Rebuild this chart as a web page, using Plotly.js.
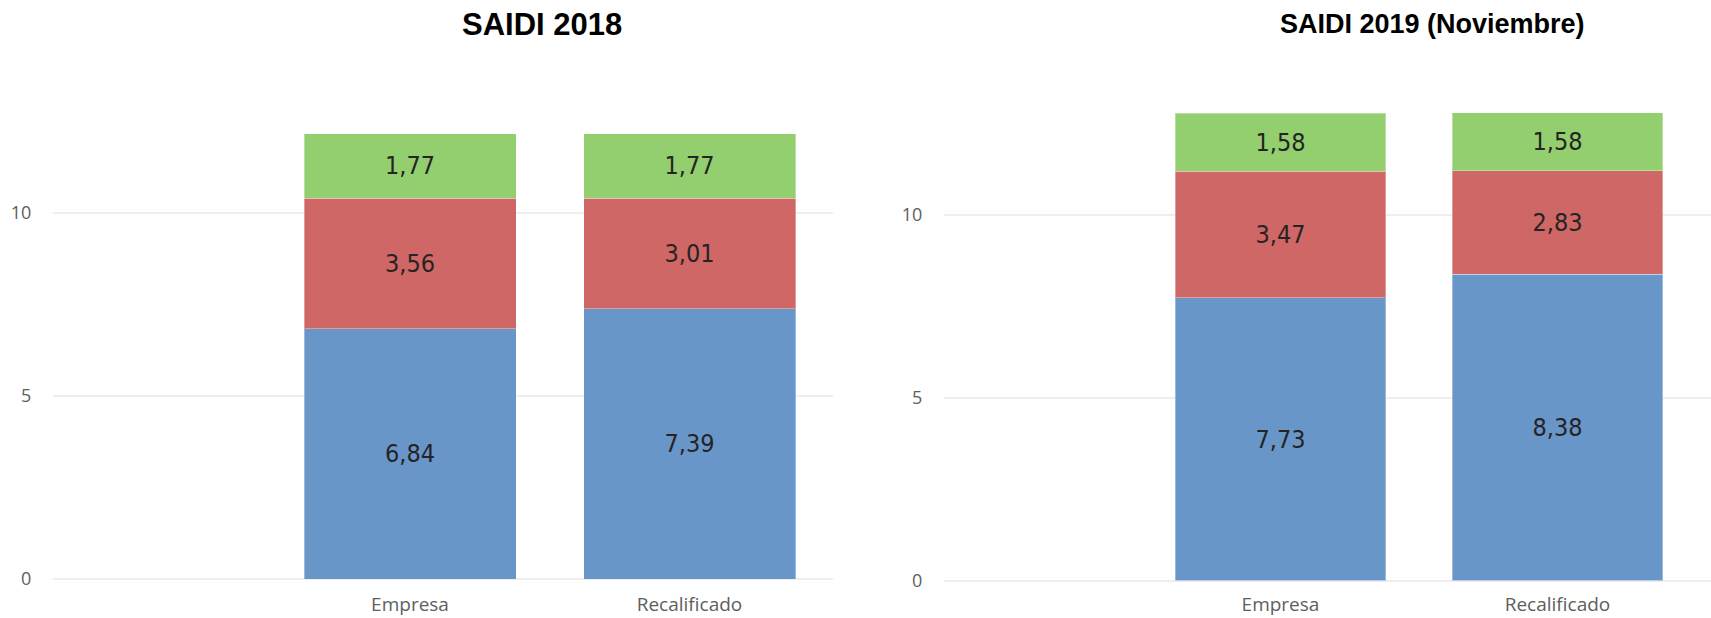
<!DOCTYPE html>
<html>
<head>
<meta charset="utf-8">
<script src="https://cdn.plot.ly/plotly-3.0.1.min.js"></script>
<style>
  html, body { margin: 0; padding: 0; background: #ffffff; }
  #chart { width: 1711px; height: 618px; }
</style>
</head>
<body>
<div id="chart"></div>
<script>
// ---- Data ----
const categories = ['Empresa', 'Recalificado'];

const blue2018  = [6.84, 7.39];
const red2018   = [3.56, 3.01];
const green2018 = [1.77, 1.77];

const blue2019  = [7.73, 8.38];
const red2019   = [3.47, 2.83];
const green2019 = [1.58, 1.58];

const title2018 = 'SAIDI 2018';
const title2019 = 'SAIDI 2019 (Noviembre)';

const yTickVals = [0, 5, 10];
const yTickText = ['0', '5', '10'];

// ---- Styles ----
const BLUE = '#6996C9', RED = '#CF6766', GREEN = '#93CE6F';
const fmt = v => v.toFixed(2).replace('.', ',');
const labelFont = { family: '"Liberation Sans Narrow", "DejaVu Sans Condensed", "Liberation Sans", sans-serif', size: 25, color: '#252423' };

function seg(vals, color, xa, ya, w) {
  return {
    type: 'bar', x: categories, y: vals, xaxis: xa, yaxis: ya,
    width: w,
    marker: { color: color, line: { color: 'rgba(255,255,255,0.35)', width: 1 } },
    text: vals.map(fmt), textposition: 'inside', insidetextanchor: 'middle',
    textangle: 0, textfont: labelFont, constraintext: 'none',
    hoverinfo: 'x+y', showlegend: false, cliponaxis: false
  };
}

const W = 1711, H = 618;
const data = [
  seg(blue2018, BLUE, 'x', 'y', 0.7585),
  seg(red2018, RED, 'x', 'y', 0.7585),
  seg(green2018, GREEN, 'x', 'y', 0.7585),
  seg(blue2019, BLUE, 'x2', 'y2', 0.7617),
  seg(red2019, RED, 'x2', 'y2', 0.7617),
  seg(green2019, GREEN, 'x2', 'y2', 0.7617)
];

const tickFont = { family: '"Open Sans", "Noto Sans", sans-serif', size: 18, color: '#605E5C' };
const xTickFont = { family: '"Open Sans", "Noto Sans", sans-serif', size: 19, color: '#605E5C' };

function yaxis(anchor, domain) {
  return {
    anchor: anchor, domain: domain, range: [0, 13],
    tickvals: yTickVals, ticktext: yTickText,
    showgrid: true, gridcolor: '#EEEEEE', gridwidth: 2,
    zeroline: true, zerolinecolor: '#EEEEEE', zerolinewidth: 2,
    showline: false, ticks: 'outside', ticklen: 17, tickcolor: 'rgba(0,0,0,0)',
    tickfont: tickFont, fixedrange: true
  };
}
function xaxis(anchor, domain, range, tl) {
  return {
    anchor: anchor, domain: domain, range: range, type: 'category',
    showgrid: false, zeroline: false, showline: false,
    ticks: 'outside', ticklen: tl, tickcolor: 'rgba(0,0,0,0)',
    tickfont: xTickFont, fixedrange: true, ticklabeloverflow: 'allow'
  };
}

const layout = {
  width: W, height: H,
  margin: { l: 0, r: 0, t: 0, b: 0, pad: 0 },
  paper_bgcolor: '#ffffff', plot_bgcolor: 'rgba(0,0,0,0)',
  barmode: 'stack',
  xaxis: xaxis('y', [53 / W, 833 / W], [-1.2773, 1.5134], 8),
  yaxis: yaxis('x', [(H - 579) / H, (H - 103.2) / H]),
  xaxis2: xaxis('y2', [944 / W, 1], [-1.2148, 1.5542], 6.5),
  yaxis2: yaxis('x2', [(H - 580.5) / H, (H - 105.3) / H]),
  annotations: [
    { text: '<b>' + title2018 + '</b>', xref: 'paper', yref: 'paper',
      x: 542 / W, y: 1 - 24.5 / H, xanchor: 'center', yanchor: 'middle', showarrow: false,
      font: { family: '"Liberation Sans", Arial, sans-serif', size: 31, color: '#000000' } },
    { text: '<b>' + title2019 + '</b>', xref: 'paper', yref: 'paper',
      x: 1432.5 / W, y: 1 - 23.5 / H, xanchor: 'center', yanchor: 'middle', showarrow: false,
      font: { family: '"Liberation Sans", Arial, sans-serif', size: 27, color: '#000000' } }
  ]
};

Plotly.newPlot('chart', data, layout, { displayModeBar: false, staticPlot: true });
</script>
</body>
</html>
